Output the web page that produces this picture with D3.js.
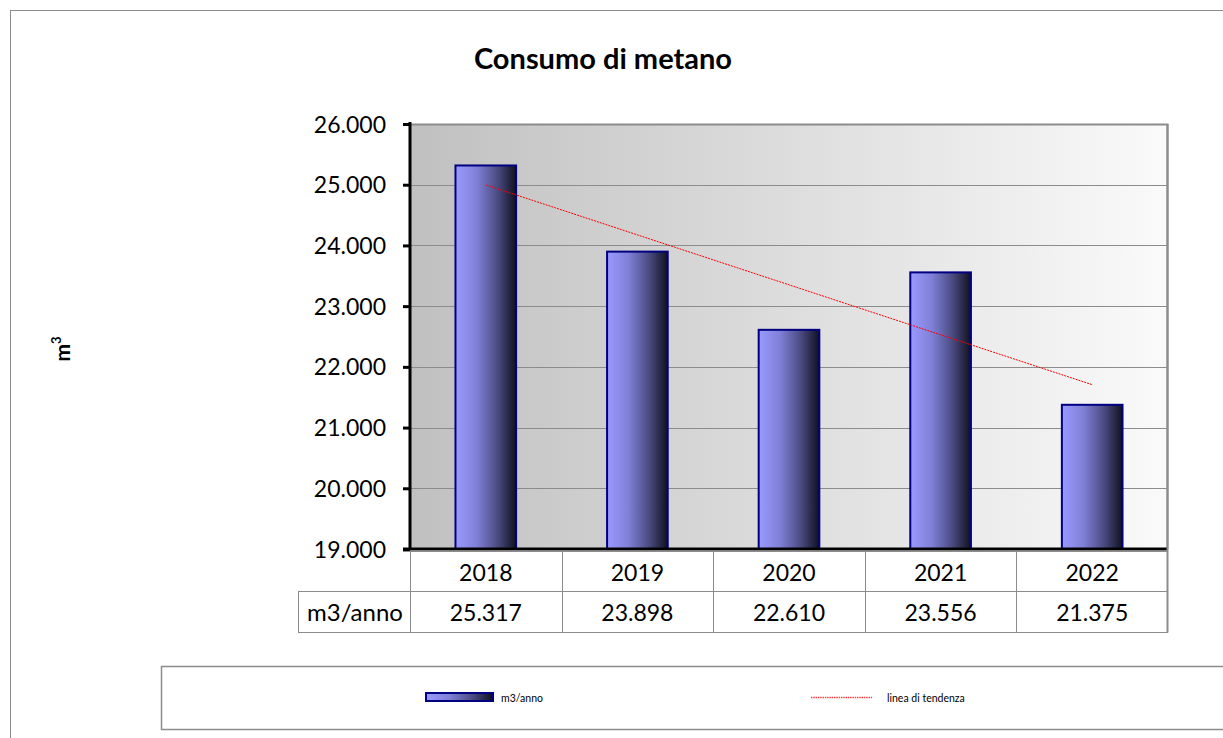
<!DOCTYPE html>
<html>
<head>
<meta charset="utf-8">
<script src="https://cdn.jsdelivr.net/npm/d3@7"></script>
<style>
  html, body { margin: 0; padding: 0; background: #fff; }
  svg { display: block; }
  text { font-family: Lato, "Open Sans", "Liberation Sans", sans-serif; fill: #000; }
</style>
</head>
<body>
<svg id="chart" width="1223" height="738"></svg>
<script>
// Annual methane consumption (m3)
const years = ["2018", "2019", "2020", "2021", "2022"];
const consumption = [25317, 23898, 22610, 23556, 21375];
const yTicks = [19000, 20000, 21000, 22000, 23000, 24000, 25000, 26000];
const seriesName = "m3/anno";
const trendName = "linea di tendenza";

const fmt = v => d3.format(",")(v).replace(/,/g, ".");

const svg = d3.select("#chart");
const W = 1223, H = 738;

// Plot area
const pLeft = 410, pRight = 1168, pTop = 124, pBottom = 549;

const defs = svg.append("defs");
const bg = defs.append("linearGradient").attr("id", "plotBg")
  .attr("x1", "0%").attr("x2", "100%").attr("y1", "0%").attr("y2", "0%");
bg.append("stop").attr("offset", "0%").attr("stop-color", "#c0c0c0");
bg.append("stop").attr("offset", "100%").attr("stop-color", "#fafafa");

const barGrad = defs.append("linearGradient").attr("id", "barGrad")
  .attr("x1", "0%").attr("x2", "100%").attr("y1", "0%").attr("y2", "0%");
barGrad.append("stop").attr("offset", "0%").attr("stop-color", "#9a9aff");
barGrad.append("stop").attr("offset", "35%").attr("stop-color", "#8080d8");
barGrad.append("stop").attr("offset", "70%").attr("stop-color", "#4a4a80");
barGrad.append("stop").attr("offset", "100%").attr("stop-color", "#101020");

// Outer chart frame
svg.append("rect").attr("x", 10.5).attr("y", 10.5).attr("width", W + 20).attr("height", H + 20)
  .attr("fill", "none").attr("stroke", "#8c8c8c").attr("stroke-width", 1);

// Title
svg.append("text").attr("x", 603).attr("y", 69).attr("text-anchor", "middle")
  .attr("font-size", 29).attr("font-weight", "bold").text("Consumo di metano");

// Y-axis title m³
const yt = svg.append("text").attr("transform", "translate(70,349) rotate(-90)")
  .attr("text-anchor", "middle").attr("font-size", 21).attr("font-weight", "bold");
yt.append("tspan").text("m");
yt.append("tspan").attr("dy", -9).attr("font-size", 13).text("3");

const x = d3.scaleBand().domain(years).range([pLeft, pRight]).paddingInner(0.6).paddingOuter(0.3);
const xCell = d3.scaleBand().domain(years).range([pLeft, pRight]);
const y = d3.scaleLinear().domain([19000, 26000]).range([pBottom, pTop]);

// Plot background
svg.append("rect").attr("x", pLeft).attr("y", pTop).attr("width", pRight - pLeft).attr("height", pBottom - pTop)
  .attr("fill", "url(#plotBg)");

// Gridlines
svg.append("g").selectAll("line").data(yTicks.filter(t => t > 19000 && t < 26000)).join("line")
  .attr("x1", pLeft).attr("x2", pRight).attr("y1", d => Math.round(y(d)) + 0.5).attr("y2", d => Math.round(y(d)) + 0.5)
  .attr("stroke", "#8c8c8c").attr("stroke-width", 1);

// Plot top and right border
svg.append("path")
  .attr("d", `M${pLeft},${pTop + 0.5}H${pRight - 0.5}V${pBottom}`)
  .attr("fill", "none").attr("stroke", "#8c8c8c").attr("stroke-width", 2);

// Bars
svg.append("g").selectAll("rect").data(years).join("rect")
  .attr("x", d => x(d))
  .attr("y", (d, i) => y(consumption[i]))
  .attr("width", x.bandwidth())
  .attr("height", (d, i) => pBottom - y(consumption[i]))
  .attr("fill", "url(#barGrad)")
  .attr("stroke", "#000080").attr("stroke-width", 2);

// Linear trend line (least squares over the series)
const n = consumption.length;
const mx = d3.mean(d3.range(n));
const my = d3.mean(consumption);
const slope = d3.sum(d3.range(n), i => (i - mx) * (consumption[i] - my)) / d3.sum(d3.range(n), i => (i - mx) ** 2);
const trend = d3.range(n).map(i => my + slope * (i - mx));
svg.append("path")
  .datum(trend)
  .attr("d", d3.line().x((d, i) => x(years[i]) + x.bandwidth() / 2).y(d => y(d)))
  .attr("fill", "none").attr("stroke", "#ff0000").attr("stroke-width", 1)
  .attr("stroke-dasharray", "2,1");

// Y axis
const yAxis = svg.append("g").attr("transform", `translate(${pLeft},0)`)
  .call(d3.axisLeft(y).tickValues(yTicks).tickFormat(fmt).tickSize(7).tickPadding(17));
yAxis.select(".domain").attr("stroke", "#000").attr("stroke-width", 3)
  .attr("d", `M0,${pTop - 2}V${pBottom + 1}`);
yAxis.selectAll(".tick line").attr("stroke", "#000").attr("stroke-width", 3);
yAxis.selectAll(".tick text").attr("font-size", 23).attr("dy", "0.35em")
  .style("font-family", 'Lato, "Open Sans", sans-serif');

// X axis baseline (black with grey underline)
svg.append("line").attr("x1", pLeft - 7).attr("x2", pRight).attr("y1", pBottom + 2.5).attr("y2", pBottom + 2.5)
  .attr("stroke", "#8c8c8c").attr("stroke-width", 1);
svg.append("line").attr("x1", pLeft - 7).attr("x2", pRight).attr("y1", pBottom).attr("y2", pBottom)
  .attr("stroke", "#000").attr("stroke-width", 3);

// Data table beneath the axis
const row1Top = pBottom + 3, row1Bot = 591, row2Bot = 632, headLeft = 298;
const grid = svg.append("g").attr("stroke", "#8c8c8c").attr("stroke-width", 1).attr("fill", "none");
xCell.domain().forEach(d => {
  grid.append("line").attr("x1", Math.round(xCell(d)) + 0.5).attr("x2", Math.round(xCell(d)) + 0.5)
    .attr("y1", row1Top).attr("y2", row2Bot);
});
grid.append("line").attr("x1", pRight - 0.5).attr("x2", pRight - 0.5).attr("y1", pTop).attr("y2", row2Bot + 0.5)
  .attr("stroke-width", 2);
grid.append("line").attr("x1", headLeft).attr("x2", pRight).attr("y1", row1Bot + 0.5).attr("y2", row1Bot + 0.5);
grid.append("line").attr("x1", headLeft).attr("x2", pRight).attr("y1", row2Bot + 0.5).attr("y2", row2Bot + 0.5);
grid.append("line").attr("x1", headLeft + 0.5).attr("x2", headLeft + 0.5).attr("y1", row1Bot).attr("y2", row2Bot);

svg.append("g").selectAll("text").data(years).join("text")
  .attr("x", d => xCell(d) + xCell.bandwidth() / 2).attr("y", (row1Top + row1Bot) / 2 + 1)
  .attr("dy", "0.35em").attr("text-anchor", "middle").attr("font-size", 23).text(d => d);
svg.append("g").selectAll("text").data(years).join("text")
  .attr("x", d => xCell(d) + xCell.bandwidth() / 2).attr("y", (row1Bot + row2Bot) / 2 + 1)
  .attr("dy", "0.35em").attr("text-anchor", "middle").attr("font-size", 23)
  .text((d, i) => fmt(consumption[i]));
svg.append("text").attr("x", (headLeft + pLeft) / 2 + 1).attr("y", (row1Bot + row2Bot) / 2 + 1)
  .attr("dy", "0.35em").attr("text-anchor", "middle").attr("font-size", 24).text(seriesName);

// Legend
svg.append("rect").attr("x", 161.5).attr("y", 666.5).attr("width", W).attr("height", 63)
  .attr("fill", "#fff").attr("stroke", "#8c8c8c").attr("stroke-width", 1.5);
const leg = svg.append("g");
leg.append("rect").attr("x", 426).attr("y", 693).attr("width", 67).attr("height", 8)
  .attr("fill", "url(#barGrad)").attr("stroke", "#000080").attr("stroke-width", 2);
leg.append("text").attr("x", 501).attr("y", 698).attr("dy", "0.35em").attr("font-size", 10.5).text(seriesName);
leg.append("line").attr("x1", 811).attr("x2", 872).attr("y1", 697.5).attr("y2", 697.5)
  .attr("stroke", "#ff4040").attr("stroke-width", 1.5).attr("stroke-dasharray", "1.5,0.8");
leg.append("text").attr("x", 887).attr("y", 698).attr("dy", "0.35em").attr("font-size", 10.5).text(trendName);
</script>
</body>
</html>
